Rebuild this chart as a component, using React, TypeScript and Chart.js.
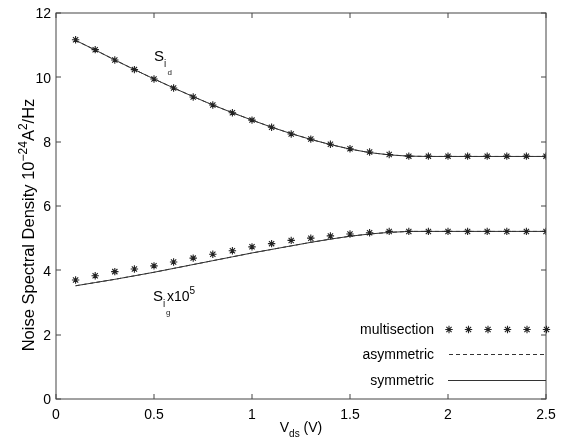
import React, { useEffect, useRef } from "react";
import { Chart, registerables } from "chart.js";

Chart.register(...registerables);

// ---------- data ----------
const vds = [0.1, 0.2, 0.3, 0.4, 0.5, 0.6, 0.7, 0.8, 0.9, 1.0, 1.1, 1.2, 1.3, 1.4, 1.5, 1.6, 1.7, 1.8, 1.9, 2.0, 2.1, 2.2, 2.3, 2.4, 2.5];

const sidMultisection = [11.17, 10.86, 10.54, 10.24, 9.95, 9.67, 9.39, 9.14, 8.9, 8.67, 8.45, 8.24, 8.08, 7.92, 7.78, 7.68, 7.6, 7.55, 7.55, 7.55, 7.55, 7.55, 7.55, 7.55, 7.55];
const sidAsymmetric = [11.15, 10.85, 10.54, 10.24, 9.95, 9.67, 9.4, 9.14, 8.9, 8.67, 8.45, 8.25, 8.07, 7.91, 7.77, 7.66, 7.59, 7.55, 7.54, 7.54, 7.54, 7.54, 7.54, 7.54, 7.54];
const sidSymmetric = [11.15, 10.85, 10.54, 10.24, 9.95, 9.67, 9.4, 9.14, 8.9, 8.67, 8.45, 8.25, 8.07, 7.91, 7.77, 7.66, 7.59, 7.55, 7.54, 7.54, 7.54, 7.54, 7.54, 7.54, 7.54];

const sigMultisection = [3.7, 3.83, 3.96, 4.04, 4.14, 4.26, 4.38, 4.5, 4.61, 4.73, 4.83, 4.93, 5.0, 5.07, 5.13, 5.17, 5.21, 5.21, 5.21, 5.21, 5.21, 5.21, 5.21, 5.21, 5.21];
const sigAsymmetric = [3.52, 3.62, 3.72, 3.83, 3.94, 4.06, 4.18, 4.3, 4.42, 4.54, 4.65, 4.76, 4.87, 4.97, 5.06, 5.13, 5.18, 5.21, 5.21, 5.21, 5.21, 5.21, 5.21, 5.21, 5.21];
const sigSymmetric = [3.52, 3.62, 3.72, 3.83, 3.94, 4.06, 4.18, 4.3, 4.42, 4.54, 4.65, 4.76, 4.87, 4.97, 5.06, 5.13, 5.18, 5.21, 5.21, 5.21, 5.21, 5.21, 5.21, 5.21, 5.21];

const xTicks = [0, 0.5, 1, 1.5, 2, 2.5];
const xTickLabels = ["0", "0.5", "1", "1.5", "2", "2.5"];
const yTicks = [0, 2, 4, 6, 8, 10, 12];
const yTickLabels = ["0", "2", "4", "6", "8", "10", "12"];
const legendLabels = ["multisection", "asymmetric", "symmetric"];

// annotation anchors (data coordinates)
const sidLabelAt = { x: 0.5, y: 10.5 };
const sigLabelAt = { x: 0.495, y: 3.05 };

// ---------- drawing helpers ----------
const FONT = '"Liberation Sans", Arial, Helvetica, sans-serif';
const INK = "#000";
const LINE = "#333";

type Seg = { t: string; size: number; dy: number; dx?: number };

function segsWidth(ctx: CanvasRenderingContext2D, segs: Seg[]) {
  let w = 0;
  for (const s of segs) {
    ctx.font = `${s.size}px ${FONT}`;
    w += (s.dx || 0) + ctx.measureText(s.t).width;
  }
  return w;
}

function drawSegs(ctx: CanvasRenderingContext2D, segs: Seg[], x: number, y: number) {
  let cx = x;
  for (const s of segs) {
    ctx.font = `${s.size}px ${FONT}`;
    cx += s.dx || 0;
    ctx.fillText(s.t, cx, y + s.dy);
    cx += ctx.measureText(s.t).width;
  }
}

function drawStar(ctx: CanvasRenderingContext2D, x: number, y: number, r: number) {
  const d = r * Math.SQRT1_2;
  ctx.beginPath();
  ctx.moveTo(x - r, y);
  ctx.lineTo(x + r, y);
  ctx.moveTo(x, y - r);
  ctx.lineTo(x, y + r);
  ctx.moveTo(x - d, y - d);
  ctx.lineTo(x + d, y + d);
  ctx.moveTo(x - d, y + d);
  ctx.lineTo(x + d, y - d);
  ctx.stroke();
}

const deco = {
  id: "deco",
  afterDraw(chart: any) {
    const { ctx, chartArea: a, scales } = chart;
    const xs = scales.x;
    const ys = scales.y;
    ctx.save();

    // box
    ctx.strokeStyle = "#444";
    ctx.lineWidth = 1;
    ctx.setLineDash([]);
    ctx.strokeRect(a.left, a.top, a.right - a.left, a.bottom - a.top);

    // inward ticks
    const tl = 5;
    ctx.beginPath();
    xTicks.forEach((v) => {
      const px = Math.round(xs.getPixelForValue(v));
      ctx.moveTo(px, a.bottom);
      ctx.lineTo(px, a.bottom - tl);
      ctx.moveTo(px, a.top);
      ctx.lineTo(px, a.top + tl);
    });
    yTicks.forEach((v) => {
      const py = Math.round(ys.getPixelForValue(v));
      ctx.moveTo(a.left, py);
      ctx.lineTo(a.left + tl, py);
      ctx.moveTo(a.right, py);
      ctx.lineTo(a.right - tl, py);
    });
    ctx.stroke();

    // tick labels
    ctx.fillStyle = INK;
    ctx.font = `14px ${FONT}`;
    ctx.textAlign = "center";
    ctx.textBaseline = "alphabetic";
    xTicks.forEach((v, i) => {
      ctx.fillText(xTickLabels[i], xs.getPixelForValue(v), a.bottom + 19.5);
    });
    ctx.textAlign = "right";
    ctx.textBaseline = "middle";
    yTicks.forEach((v, i) => {
      ctx.fillText(yTickLabels[i], a.left - 5, ys.getPixelForValue(v) + 1.5);
    });

    ctx.textAlign = "left";
    ctx.textBaseline = "alphabetic";

    // x title: V_ds (V)
    const xt: Seg[] = [
      { t: "V", size: 14, dy: 0 },
      { t: "ds", size: 10, dy: 5 },
      { t: " (V)", size: 14, dy: 0 },
    ];
    const xw = segsWidth(ctx, xt);
    drawSegs(ctx, xt, (a.left + a.right) / 2 - xw / 2, a.bottom + 33);

    // y title
    const yt: Seg[] = [
      { t: "Noise Spectral Density 10", size: 16.5, dy: 0 },
      { t: "\u221224", size: 12, dy: -7 },
      { t: "A", size: 16.5, dy: 0 },
      { t: "2", size: 12, dy: -7 },
      { t: "/Hz", size: 16.5, dy: 0 },
    ];
    const yw = segsWidth(ctx, yt);
    ctx.save();
    ctx.translate(34, (a.top + a.bottom) / 2 + 19);
    ctx.rotate(-Math.PI / 2);
    drawSegs(ctx, yt, -yw / 2, 0);
    ctx.restore();

    // annotation S_i_d
    const p1x = xs.getPixelForValue(sidLabelAt.x);
    const p1y = ys.getPixelForValue(sidLabelAt.y);
    drawSegs(ctx, [{ t: "S", size: 15, dy: 0 }], p1x, p1y);
    ctx.fillStyle = "#222";
    drawSegs(ctx, [{ t: "i", size: 10, dy: 6 }], p1x + 10, p1y);
    drawSegs(ctx, [{ t: "d", size: 8, dy: 14 }], p1x + 13.5, p1y);

    // annotation S_i_g x10^5
    ctx.fillStyle = INK;
    const p2x = xs.getPixelForValue(sigLabelAt.x);
    const p2y = ys.getPixelForValue(sigLabelAt.y);
    drawSegs(ctx, [{ t: "S", size: 15, dy: 0 }], p2x, p2y);
    ctx.fillStyle = "#222";
    drawSegs(ctx, [{ t: "i", size: 10, dy: 6 }], p2x + 10, p2y);
    drawSegs(ctx, [{ t: "g", size: 8, dy: 14 }], p2x + 13, p2y);
    ctx.fillStyle = INK;
    drawSegs(
      ctx,
      [
        { t: "x10", size: 14, dy: 0 },
        { t: "5", size: 10, dy: -7 },
      ],
      p2x + 14,
      p2y
    );

    // legend
    const rowsY = [a.bottom - 70, a.bottom - 45, a.bottom - 19];
    const textRight = a.right - 112;
    const symL = a.right - 98;
    ctx.font = `14px ${FONT}`;
    ctx.textAlign = "right";
    ctx.textBaseline = "middle";
    ctx.fillStyle = INK;
    legendLabels.forEach((lab, i) => ctx.fillText(lab, textRight, rowsY[i] + 1));

    ctx.strokeStyle = "#222";
    ctx.lineWidth = 1.1;
    for (let k = 0; k < 6; k++) {
      drawStar(ctx, symL + 1 + k * 19.5, rowsY[0] + 0.5, 3.7);
    }
    ctx.lineWidth = 1;
    ctx.strokeStyle = LINE;
    ctx.setLineDash([4, 3]);
    ctx.beginPath();
    ctx.moveTo(symL + 1, Math.round(rowsY[1]) + 0.5);
    ctx.lineTo(a.right, Math.round(rowsY[1]) + 0.5);
    ctx.stroke();
    ctx.setLineDash([]);
    ctx.beginPath();
    ctx.moveTo(symL, Math.round(rowsY[2]) + 0.5);
    ctx.lineTo(a.right, Math.round(rowsY[2]) + 0.5);
    ctx.stroke();

    ctx.restore();
  },
};

export default function App() {
  const ref = useRef<HTMLCanvasElement>(null);

  useEffect(() => {
    if (!ref.current) return;
    const pts = (ys: number[]) => vds.map((x, i) => ({ x, y: ys[i] }));
    const starSet = (ys: number[]) => ({
      data: pts(ys),
      showLine: false,
      pointStyle: "star" as const,
      pointRadius: 3.7,
      pointBorderWidth: 1.1,
      pointBorderColor: "#222",
      pointBackgroundColor: "#222",
    });
    const lineSet = (ys: number[], dash: number[]) => ({
      data: pts(ys),
      showLine: true,
      pointRadius: 0,
      borderColor: LINE,
      borderWidth: 1,
      borderDash: dash,
      tension: 0,
    });

    const chart = new Chart(ref.current, {
      type: "scatter",
      data: {
        datasets: [
          { label: "multisection", ...starSet(sidMultisection) },
          { label: "multisection", ...starSet(sigMultisection) },
          { label: "asymmetric", ...lineSet(sidAsymmetric, [4, 3]) },
          { label: "asymmetric", ...lineSet(sigAsymmetric, [4, 3]) },
          { label: "symmetric", ...lineSet(sidSymmetric, []) },
          { label: "symmetric", ...lineSet(sigSymmetric, []) },
        ] as any,
      },
      options: {
        responsive: false,
        animation: false,
        events: [],
        layout: { padding: { top: 13, right: 20, left: 0, bottom: 0 } },
        plugins: { legend: { display: false }, tooltip: { enabled: false } },
        scales: {
          x: {
            type: "linear",
            min: 0,
            max: 2.5,
            ticks: { display: false, stepSize: 0.5 },
            grid: { display: false },
            border: { display: false },
            afterFit: (s: any) => {
              s.height = 42;
            },
          },
          y: {
            type: "linear",
            min: 0,
            max: 12,
            ticks: { display: false, stepSize: 2 },
            grid: { display: false },
            border: { display: false },
            afterFit: (s: any) => {
              s.width = 56;
            },
          },
        },
      } as any,
      plugins: [deco],
    });
    return () => chart.destroy();
  }, []);

  return (
    <div style={{ position: "fixed", left: 0, top: 0, width: 566, height: 441, background: "#fff" }}>
      <canvas ref={ref} width={566} height={441} style={{ display: "block", width: 566, height: 441 }} />
    </div>
  );
}
